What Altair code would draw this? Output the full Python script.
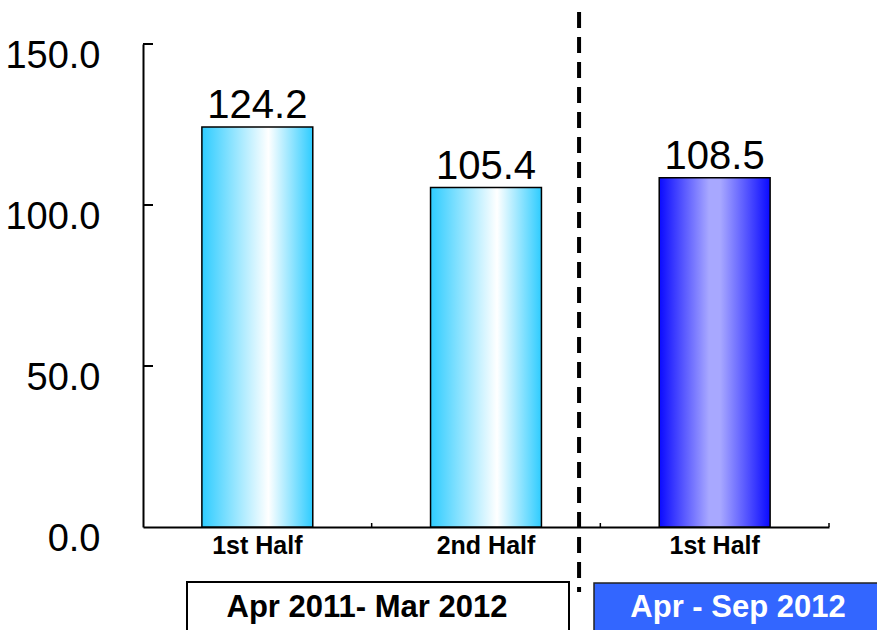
import altair as alt
import pandas as pd

# ---- data ----
keys = ["FY2011 H1", "FY2011 H2", "FY2012 H1"]
labels = ["1st Half", "2nd Half", "1st Half"]
values = [124.2, 105.4, 108.5]
groups = ["prev", "prev", "curr"]
y_ticks = [0, 50, 100, 150]
period_labels = ["Apr 2011- Mar 2012", "Apr - Sep 2012"]

df = pd.DataFrame({"key": keys, "label": labels, "value": values, "group": groups})
tick_df = pd.DataFrame({"v": y_ticks[1:]})
sep_df = pd.DataFrame({"key": [keys[1]]})

W, H = 686, 483
NARROW = "Liberation Sans Narrow, Arial Narrow, Liberation Sans, Arial, sans-serif"
BOLD = "Liberation Sans, Arial, sans-serif"

label_map = "{" + ",".join(f"'{k}':'{l}'" for k, l in zip(keys, labels)) + "}"

x_enc = alt.X(
    "key:N",
    sort=keys,
    scale=alt.Scale(paddingInner=0, paddingOuter=0),
    axis=alt.Axis(
        title="",
        labelExpr=f"{label_map}[datum.value]",
        labelAngle=0,
        ticks=False,
        labelFont=BOLD,
        labelFontWeight="bold",
        labelFontSize=25,
        labelColor="black",
        labelPadding=6,
        domainColor="black",
        domainWidth=2,
        grid=False,
    ),
)
y_enc = alt.Y(
    "value:Q",
    scale=alt.Scale(domain=[0, 150], nice=False),
    axis=alt.Axis(
        title="",
        values=y_ticks,
        format=".1f",
        tickSize=0,
        labelFont=NARROW,
        labelFontSize=38,
        labelColor="black",
        labelPadding=43,
        labelOffset=12,
        domainColor="black",
        domainWidth=2,
        grid=False,
    ),
)

cyan_grad = alt.Gradient(
    gradient="linear", x1=0, x2=1, y1=0, y2=0,
    stops=[
        alt.GradientStop(color="#2ECCFF", offset=0),
        alt.GradientStop(color="#FFFFFF", offset=0.6),
        alt.GradientStop(color="#2ECCFF", offset=1),
    ],
)
blue_grad = alt.Gradient(
    gradient="linear", x1=0, x2=1, y1=0, y2=0,
    stops=[
        alt.GradientStop(color="#0A0AFF", offset=0),
        alt.GradientStop(color="#A8A8FF", offset=0.45),
        alt.GradientStop(color="#A8A8FF", offset=0.55),
        alt.GradientStop(color="#0A0AFF", offset=1),
    ],
)

base = alt.Chart(df)

bars_prev = base.transform_filter(alt.datum.group == "prev").mark_bar(
    width=alt.RelativeBandSize(0.485), color=cyan_grad, stroke="black", strokeWidth=1.5
).encode(x=x_enc, y=y_enc)

bars_curr = base.transform_filter(alt.datum.group == "curr").mark_bar(
    width=alt.RelativeBandSize(0.485), color=blue_grad, stroke="black", strokeWidth=1.5
).encode(x=x_enc, y=y_enc)

value_text = base.mark_text(
    dy=-9, baseline="alphabetic", font=NARROW, fontSize=40, color="black"
).encode(x=alt.X("key:N", sort=keys), y="value:Q", text=alt.Text("value:Q", format=".1f"))

y_tick_rules = alt.Chart(tick_df).mark_rule(color="black", strokeWidth=2).encode(
    y="v:Q", x=alt.value(0), x2=alt.value(10)
)

x_tick_rules = alt.Chart(df).mark_rule(color="black", strokeWidth=1.5).encode(
    x=alt.X("key:N", sort=keys, bandPosition=1), y=alt.value(H), y2=alt.value(H - 4)
)

separator = alt.Chart(sep_df).mark_rule(
    color="black", strokeWidth=4, strokeDash=[16, 9]
).encode(x=alt.X("key:N", sort=keys, bandPosition=0.907), y=alt.value(-32), y2=alt.value(548))

box_df = pd.DataFrame({"text": period_labels})

box1 = alt.Chart(box_df.iloc[[0]]).mark_rect(
    fill="white", stroke="black", strokeWidth=2
).encode(x=alt.value(44), x2=alt.value(426), y=alt.value(538), y2=alt.value(620))
box1_text = alt.Chart(box_df.iloc[[0]]).mark_text(
    font=BOLD, fontWeight="bold", fontSize=31, color="black", baseline="alphabetic"
).encode(x=alt.value(224), y=alt.value(573), text="text:N")

box2 = alt.Chart(box_df.iloc[[1]]).mark_rect(
    fill="#3366FF", stroke="#222222", strokeWidth=1.5
).encode(x=alt.value(451), x2=alt.value(760), y=alt.value(539), y2=alt.value(620))
box2_text = alt.Chart(box_df.iloc[[1]]).mark_text(
    font=BOLD, fontWeight="bold", fontSize=31, color="white", baseline="alphabetic"
).encode(x=alt.value(595), y=alt.value(573), text="text:N")

chart = alt.layer(
    bars_prev, bars_curr, value_text, y_tick_rules, x_tick_rules,
    separator, box1, box1_text, box2, box2_text,
).properties(
    width=W, height=H,
    autosize=alt.AutoSizeParams(type="none"),
    padding={"left": 143, "top": 44, "right": 48, "bottom": 103},
    view=alt.ViewBackground(stroke="transparent", strokeWidth=0),
).configure_view(stroke="transparent", strokeWidth=0).configure(background="white")

chart.save("out.html", embed_options={"renderer": "svg", "actions": False})
